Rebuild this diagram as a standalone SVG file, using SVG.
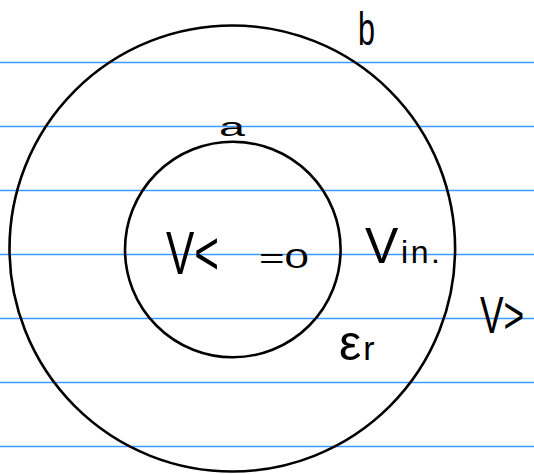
<svg xmlns="http://www.w3.org/2000/svg" width="534" height="474" viewBox="0 0 534 474">
<style>
.rule{stroke:#3d9bff;stroke-width:1.6}
.ring{fill:none;stroke:#000;stroke-width:2.6}
.hw{font-family:"Liberation Sans","DejaVu Sans",sans-serif;fill:#000}
</style>
<rect width="534" height="474" fill="#fff"/>
<g id="ruled-lines">
<line class="rule" x1="0" y1="62.5" x2="534" y2="62.5"/>
<line class="rule" x1="0" y1="126.5" x2="534" y2="126.5"/>
<line class="rule" x1="0" y1="190.5" x2="534" y2="190.5"/>
<line class="rule" x1="0" y1="254.5" x2="534" y2="254.5"/>
<line class="rule" x1="0" y1="318.5" x2="534" y2="318.5"/>
<line class="rule" x1="0" y1="382.5" x2="534" y2="382.5"/>
<line class="rule" x1="0" y1="446.5" x2="534" y2="446.5"/>
</g>
<g id="outer-conductor">
<ellipse class="ring" cx="232.3" cy="248.5" rx="222.8" ry="223"/>
<text class="hw" x="358" y="45" font-size="46" textLength="17" lengthAdjust="spacingAndGlyphs">b</text>
</g>
<g id="inner-conductor">
<circle class="ring" cx="232.8" cy="249.5" r="107.8"/>
<text class="hw" x="219" y="136" font-size="26" textLength="26" lengthAdjust="spacingAndGlyphs">a</text>
<text class="hw" x="166" y="274" font-size="62" textLength="53" lengthAdjust="spacingAndGlyphs">V&lt;</text>
<text class="hw" x="259" y="268" font-size="28" textLength="50" lengthAdjust="spacingAndGlyphs">=0</text>
</g>
<g id="dielectric">
<text class="hw" x="365" y="263" textLength="75" lengthAdjust="spacing"><tspan font-size="50">V</tspan><tspan font-size="32">in.</tspan></text>
<text class="hw" x="339" y="360"><tspan font-size="50">ε</tspan><tspan font-size="34" dx="2">r</tspan></text>
</g>
<g id="outside">
<text class="hw" transform="translate(480 333) scale(0.68 1)" font-size="52">V&gt;</text>
</g>
</svg>
